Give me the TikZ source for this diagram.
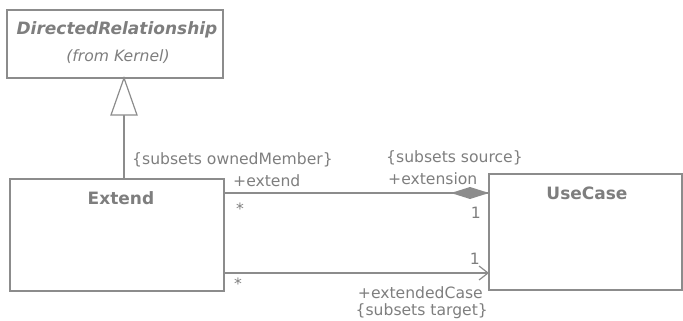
\documentclass[tikz,border=0pt]{standalone}
\usepackage{fontspec}
\setmainfont{DejaVu Sans}
\usetikzlibrary{arrows.meta}
\definecolor{umlgray}{HTML}{7E7E7E}
\definecolor{umlline}{HTML}{8C8C8C}
\begin{document}
\begin{tikzpicture}[x=1pt,y=-1pt,
  umlbox/.style={draw=umlline,line width=1.3pt},
  conn/.style={draw=umlline,line width=1.2pt},
  lbl/.style={text=umlgray,font=\fontsize{15.6}{18}\selectfont,inner sep=0pt},
  title/.style={text=umlgray,font=\fontsize{17}{20}\selectfont\bfseries,inner sep=0pt}]
\useasboundingbox (0,0) rectangle (683,321);
% classes
\draw[umlbox] (7,10) rectangle (223,78);
\coordinate (drB) at (124,78);
\node[title,font=\fontsize{17}{20}\selectfont\bfseries\itshape] (dr) at (117,30) {DirectedRelationship};
\node[lbl,font=\fontsize{15.6}{18}\selectfont\itshape] (drk) at (118,57) {(from Kernel)};
\draw[umlbox] (10,179) rectangle (224,291);
\coordinate (exT) at (124,179);
\node[title] (ext) at (121,198) {Extend};
\draw[umlbox] (489,174) rectangle (682,290);
\node[title] (uc) at (587,193) {UseCase};
% generalization
\coordinate (tri) at (124,115);
\draw[conn] (exT) -- (tri);
\draw[conn,fill=white] (tri) -- ++(-13,0) -- (drB) -- ++(13,37) -- cycle;
% composition (extension)
\coordinate (a1) at (224,193);
\coordinate (a2) at (489,193);
\draw[conn] (a1) -- (a2);
\fill[umlline] (a2) -- ++(-19,-6) -- ++(-19,6) -- ++(19,6) -- cycle;
% directed association (extendedCase)
\coordinate (b1) at (225,273);
\coordinate (b2) at (489,273);
\draw[conn,-{Straight Barb[length=9pt,width=14pt,line width=1.2pt]}] (b1) -- (b2);
% role labels
\node[lbl,anchor=west] (l1) at (132,160) {\{subsets ownedMember\}};
\node[lbl,anchor=west] (l2) at (233,181) {+extend};
\node[lbl,anchor=west] (l3) at (236,209) {*};
\node[lbl,anchor=west] (l4) at (386,158) {\{subsets source\}};
\node[lbl,anchor=west] (l5) at (388,179) {+extension};
\node[lbl,anchor=east] (l6) at (481,213) {1};
\node[lbl,anchor=east] (l7) at (480,259) {1};
\node[lbl,anchor=west] (l8) at (234,284) {*};
\node[lbl,anchor=east] (l9) at (483,293) {+extendedCase};
\node[lbl,anchor=east] (l10) at (488,311) {\{subsets target\}};
\end{tikzpicture}
\end{document}
